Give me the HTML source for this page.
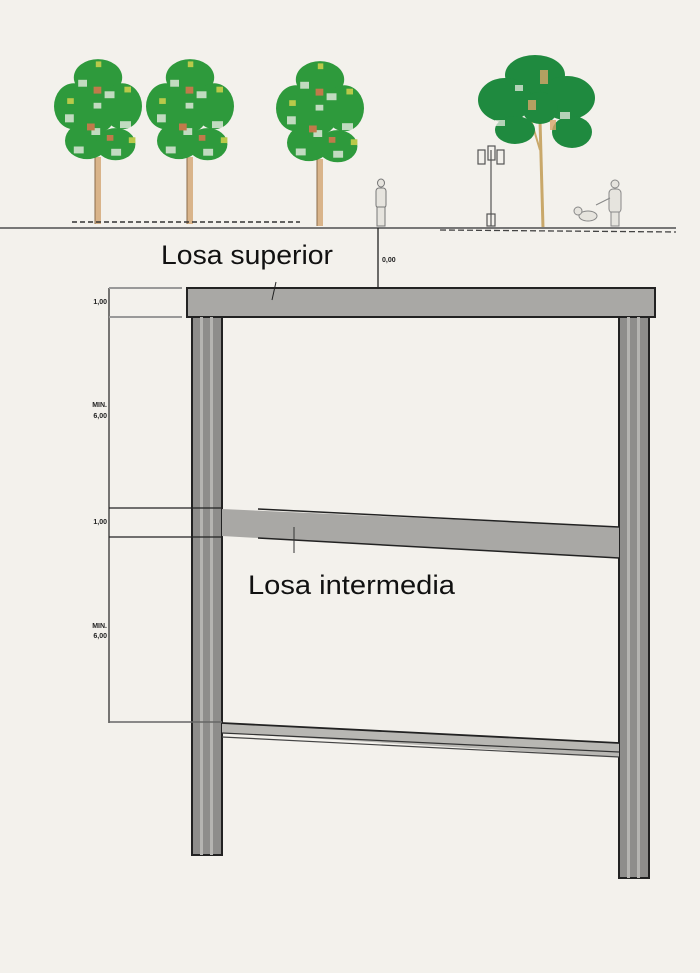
<!DOCTYPE html>
<html><head><meta charset="utf-8"><style>
html,body{margin:0;padding:0;background:#f3f1ec;}
svg{display:block;}
</style></head><body>
<svg width="700" height="973" viewBox="0 0 700 973" xmlns="http://www.w3.org/2000/svg">
<defs>
<g id="tree">
  <rect x="-3" y="45" width="6" height="67" fill="#d9b48a"/>
  <line x1="-3" y1="45" x2="-3" y2="112" stroke="#8a6b4a" stroke-width="1"/>
  <g transform="scale(1.1,1.15)">
  <g fill="#2e9a3c">
    <ellipse cx="0" cy="-30" rx="22" ry="16"/>
    <ellipse cx="-22" cy="-5" rx="18" ry="20"/>
    <ellipse cx="22" cy="-5" rx="18" ry="20"/>
    <ellipse cx="-10" cy="25" rx="20" ry="16"/>
    <ellipse cx="16" cy="28" rx="18" ry="14"/>
    <ellipse cx="0" cy="0" rx="16" ry="18"/>
  </g>
  <g fill="#f3f1ec" opacity="0.75">
    <rect x="-18" y="-28" width="8" height="6"/><rect x="6" y="-18" width="9" height="6"/>
    <rect x="-30" y="2" width="8" height="7"/><rect x="20" y="8" width="10" height="6"/>
    <rect x="-6" y="14" width="8" height="6"/><rect x="-22" y="30" width="9" height="6"/>
    <rect x="12" y="32" width="9" height="6"/><rect x="-4" y="-8" width="7" height="5"/>
  </g>
  <g fill="#b9c94a"><rect x="-28" y="-12" width="6" height="5"/><rect x="24" y="-22" width="6" height="5"/><rect x="-2" y="-44" width="5" height="5"/><rect x="28" y="22" width="6" height="5"/></g>
  <g fill="#c07a4a"><rect x="-4" y="-22" width="7" height="6"/><rect x="-10" y="10" width="7" height="6"/><rect x="8" y="20" width="6" height="5"/></g>
  </g>
</g>
</defs>

<use href="#tree" transform="translate(98,112)"/>
<use href="#tree" transform="translate(190,112)"/>
<use href="#tree" transform="translate(320,114)"/>

<!-- big tree -->
<g>
  <line x1="540" y1="120" x2="543" y2="228" stroke="#c9a86a" stroke-width="3"/>
  <line x1="528" y1="110" x2="540" y2="150" stroke="#c9a86a" stroke-width="2"/>
  <g fill="#1f8a3f">
    <ellipse cx="535" cy="75" rx="30" ry="20"/>
    <ellipse cx="505" cy="100" rx="27" ry="22"/>
    <ellipse cx="567" cy="98" rx="28" ry="22"/>
    <ellipse cx="515" cy="130" rx="20" ry="14"/>
    <ellipse cx="572" cy="132" rx="20" ry="16"/>
    <ellipse cx="540" cy="108" rx="18" ry="16"/>
  </g>
  <g fill="#f3f1ec" opacity="0.7"><rect x="495" y="120" width="10" height="6"/><rect x="560" y="112" width="10" height="7"/><rect x="515" y="85" width="8" height="6"/></g>
  <g fill="#d9a66a" opacity="0.8"><rect x="540" y="70" width="8" height="14"/><rect x="528" y="100" width="8" height="10"/><rect x="550" y="120" width="6" height="10"/></g>
</g>

<!-- lamp -->
<g stroke="#555" fill="none" stroke-width="1.2">
  <line x1="491" y1="150" x2="491" y2="226"/>
  <rect x="478" y="150" width="7" height="14"/><rect x="488" y="146" width="7" height="14"/><rect x="497" y="150" width="7" height="14"/>
  <rect x="487" y="214" width="8" height="12"/>
</g>
<!-- person -->
<g stroke="#777" fill="#e6e4de" stroke-width="1">
  <ellipse cx="381" cy="183" rx="3.5" ry="4"/>
  <rect x="376" y="188" width="10" height="20" rx="3"/>
  <rect x="377" y="207" width="8" height="19"/>
</g>
<!-- person with dog -->
<g stroke="#888" fill="#e6e4de" stroke-width="1">
  <ellipse cx="615" cy="184" rx="4" ry="4"/>
  <rect x="609" y="189" width="12" height="24" rx="4"/>
  <rect x="611" y="212" width="8" height="14"/>
  <ellipse cx="588" cy="216" rx="9" ry="5"/>
  <circle cx="578" cy="211" r="4"/>
  <line x1="596" y1="205" x2="610" y2="198"/>
</g>

<!-- ground -->
<line x1="0" y1="228" x2="676" y2="228" stroke="#777" stroke-width="2"/>
<line x1="72" y1="222" x2="300" y2="222" stroke="#333" stroke-width="1.5" stroke-dasharray="5,3"/>
<line x1="440" y1="230" x2="676" y2="232" stroke="#444" stroke-width="1.3" stroke-dasharray="6,3"/>

<line x1="378" y1="228" x2="378" y2="289" stroke="#222" stroke-width="1.3"/>
<text x="382" y="262" font-family="Liberation Sans, sans-serif" font-size="7" font-weight="bold" fill="#222">0,00</text>

<rect x="187" y="288" width="468" height="29" fill="#a9a8a5" stroke="#222" stroke-width="2"/>
<line x1="276" y1="282" x2="272" y2="300" stroke="#222" stroke-width="1"/>

<rect x="192" y="317" width="30" height="538" fill="#8e8d8b" stroke="#222" stroke-width="2"/>
<rect x="200" y="317" width="3" height="538" fill="#b5b4b1"/><rect x="210" y="317" width="3" height="538" fill="#b5b4b1"/>
<rect x="619" y="317" width="30" height="561" fill="#8e8d8b" stroke="#222" stroke-width="2"/>
<rect x="627" y="317" width="3" height="561" fill="#b5b4b1"/><rect x="637" y="317" width="3" height="561" fill="#b5b4b1"/>

<polygon points="222,509 619,527 619,558 222,536" fill="#a9a8a5"/>
<line x1="258" y1="509" x2="619" y2="527" stroke="#222" stroke-width="1.5"/>
<line x1="258" y1="538" x2="619" y2="558" stroke="#222" stroke-width="1.5"/>
<line x1="294" y1="527" x2="294" y2="553" stroke="#333" stroke-width="1"/>

<polygon points="222,723 619,743 619,757 222,733" fill="#b8b7b3"/>
<line x1="222" y1="723" x2="619" y2="743" stroke="#222" stroke-width="1.8"/>
<line x1="222" y1="733" x2="619" y2="752" stroke="#333" stroke-width="1.2"/>
<line x1="222" y1="737" x2="619" y2="757" stroke="#444" stroke-width="1.2"/>

<line x1="109" y1="288" x2="109" y2="723" stroke="#222" stroke-width="1.2"/>
<line x1="109" y1="288" x2="182" y2="288" stroke="#999" stroke-width="2"/>
<line x1="109" y1="317" x2="182" y2="317" stroke="#999" stroke-width="2"/>
<line x1="109" y1="508" x2="222" y2="508" stroke="#222" stroke-width="1.2"/>
<line x1="109" y1="537" x2="222" y2="537" stroke="#222" stroke-width="1.2"/>
<line x1="109" y1="722" x2="222" y2="722" stroke="#666" stroke-width="1.5"/>
<g font-family="Liberation Sans, sans-serif" font-size="7" font-weight="bold" fill="#222" text-anchor="end">
  <text x="107" y="304">1,00</text>
  <text x="107" y="407">MIN.</text><text x="107" y="418">6,00</text>
  <text x="107" y="524">1,00</text>
  <text x="107" y="628">MIN.</text><text x="107" y="638">6,00</text>
</g>

<text x="161" y="264" font-family="Liberation Sans, sans-serif" font-size="27" fill="#111" textLength="172" lengthAdjust="spacingAndGlyphs">Losa superior</text>
<text x="248" y="594" font-family="Liberation Sans, sans-serif" font-size="27" fill="#111" textLength="207" lengthAdjust="spacingAndGlyphs">Losa intermedia</text>
</svg>
</body></html>
